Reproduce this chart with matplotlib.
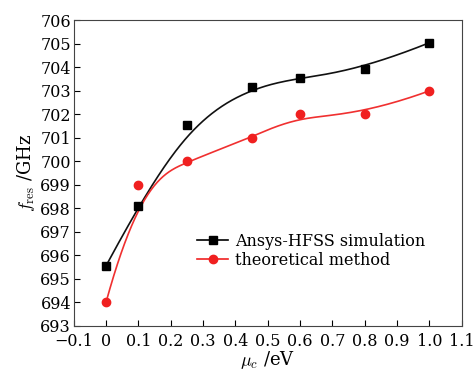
import numpy as np
import matplotlib
matplotlib.use("Agg")
import matplotlib.pyplot as plt

plt.rcParams['font.family'] = 'DejaVu Serif'
plt.rcParams['mathtext.fontset'] = 'cm'

mu_c = [0, 0.1, 0.25, 0.45, 0.6, 0.8, 1.0]
hfss = [695.55, 698.1, 701.55, 703.15, 703.55, 703.95, 705.05]
theory = [694.0, 699.0, 700.0, 701.0, 702.0, 702.0, 703.0]
xticks = [-0.1, 0, 0.1, 0.2, 0.3, 0.4, 0.5, 0.6, 0.7, 0.8, 0.9, 1.0, 1.1]
xticklabels = ['\u22120.1', '0', '0.1', '0.2', '0.3', '0.4', '0.5', '0.6',
               '0.7', '0.8', '0.9', '1.0', '1.1']


def bspline(px, py, n=300):
    # clamped cubic B-spline using the data points as control points
    px = np.asarray(px, float)
    py = np.asarray(py, float)
    m = len(px)
    inner = np.linspace(0, 1, m - 2)
    knots = np.concatenate([[0, 0, 0], inner, [1, 1, 1]])
    ts = np.linspace(0, 1 - 1e-9, n)
    outx, outy = [], []
    for t in ts:
        k = np.searchsorted(knots, t, side='right') - 1
        dx = [px[j] for j in range(k - 3, k + 1)]
        dy = [py[j] for j in range(k - 3, k + 1)]
        for r in range(1, 4):
            for j in range(3, r - 1, -1):
                i = j + k - 3
                a = (t - knots[i]) / (knots[i + 4 - r] - knots[i])
                dx[j] = (1 - a) * dx[j - 1] + a * dx[j]
                dy[j] = (1 - a) * dy[j - 1] + a * dy[j]
        outx.append(dx[3])
        outy.append(dy[3])
    outx.append(px[-1])
    outy.append(py[-1])
    return outx, outy


fig, ax = plt.subplots(figsize=(4.76, 3.72), dpi=100)
fig.subplots_adjust(left=0.155, right=0.97, bottom=0.125, top=0.945)

bx, by = bspline(mu_c, hfss)
rx, ry = bspline(mu_c, theory)
ax.plot(bx, by, color='#111111', lw=1.2)
ax.plot(rx, ry, color='#f03030', lw=1.2)
ax.plot(mu_c, hfss, 's', color='black', ms=5.5)
ax.plot(mu_c, theory, 'o', color='#f02020', ms=6)

# legend handles
ax.plot([], [], '-s', color='black', ms=5.5, lw=1.2, label='Ansys-HFSS simulation')
ax.plot([], [], '-o', color='#f02020', ms=6, lw=1.2, label='theoretical method')
ax.legend(loc='center left', bbox_to_anchor=(0.3, 0.245), frameon=False,
          fontsize=11.5, handlelength=2.0, handletextpad=0.4, labelspacing=0.1,
          borderaxespad=0)

ax.set_xlim(-0.1, 1.1)
ax.set_ylim(693, 706)
ax.set_xticks(xticks)
ax.set_xticklabels(xticklabels)
ax.set_yticks(range(693, 707))
ax.tick_params(direction='in', labelsize=11.5, length=4, pad=2)
ax.tick_params(axis='x', pad=5.5)
for s in ax.spines.values():
    s.set_color('#444444')

ax.set_xlabel(r'$\mu_c$ /eV', fontsize=13, labelpad=-1)
ax.set_ylabel(r'$f_{\rm res}$ /GHz', fontsize=13, labelpad=2)

fig.savefig('out.png', dpi=100)
